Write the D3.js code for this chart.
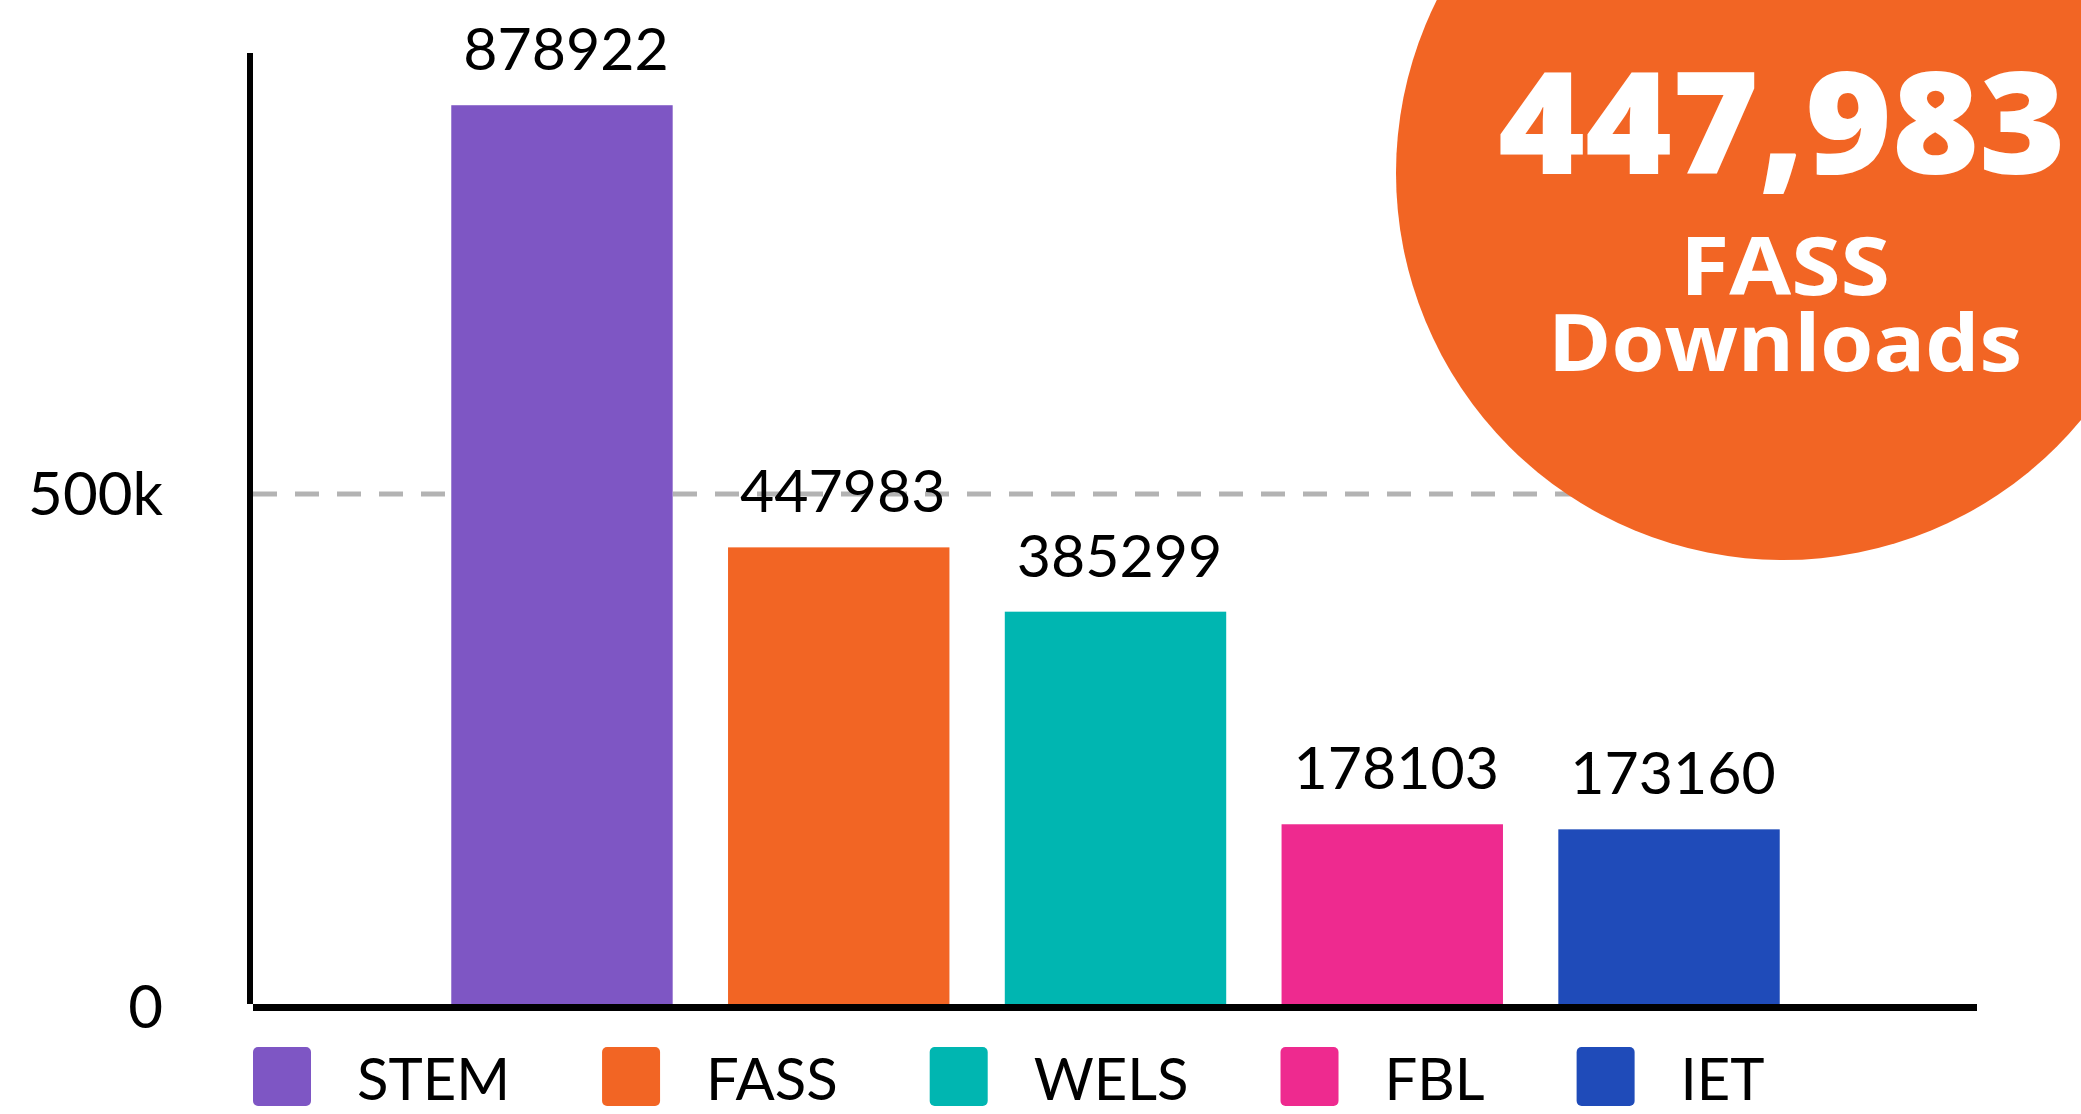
<!DOCTYPE html>
<html>
<head>
<meta charset="utf-8">
<script src="https://cdn.jsdelivr.net/npm/d3@7"></script>
<style>
  html, body { margin: 0; padding: 0; background: #ffffff; }
  svg { display: block; }
</style>
</head>
<body>
<svg id="chart" width="2081" height="1114"></svg>
<script>
// ---- data ----
const categories = ["STEM", "FASS", "WELS", "FBL", "IET"];
const downloads = [878922, 447983, 385299, 178103, 173160];
const colors = ["#7E56C4", "#F26524", "#00B6B1", "#EE2A8F", "#1F4BB9"];
const yTickValues = [0, 500000];
const yTickLabels = ["0", "500k"];
const calloutNumber = "447,983";
const calloutLines = ["FASS", "Downloads"];

// ---- layout ----
const axisX = 250, axisTop = 53, baseY = 1007;
const plotRight = 1977;

const svg = d3.select("#chart");

const x = d3.scaleBand()
  .domain(categories)
  .range([axisX + 2, plotRight + 2])
  .paddingInner(0.2)
  .paddingOuter(0.72);

const y = d3.scaleLinear()
  .domain([0, 500000])
  .range([baseY, 494]);

// dashed gridline at 500k
svg.append("line")
  .attr("x1", axisX + 3).attr("x2", plotRight)
  .attr("y1", y(500000)).attr("y2", y(500000))
  .attr("stroke", "#b3b3b3")
  .attr("stroke-width", 5)
  .attr("stroke-dasharray", "24 18");

// bars
const data = categories.map((c, i) => ({ cat: c, value: downloads[i], color: colors[i] }));

svg.append("g").selectAll("rect")
  .data(data).join("rect")
  .attr("x", d => x(d.cat))
  .attr("y", d => y(d.value))
  .attr("width", x.bandwidth())
  .attr("height", d => baseY - y(d.value))
  .attr("fill", d => d.color);

// value labels
svg.append("g").selectAll("text")
  .data(data).join("text")
  .attr("x", d => x(d.cat) + x.bandwidth() / 2 + 4)
  .attr("y", d => y(d.value) - 35)
  .attr("text-anchor", "middle")
  .attr("font-family", "Lato, sans-serif")
  .attr("font-size", 59)
  .attr("fill", "#000")
  .text(d => String(d.value));

// y tick labels
svg.append("g").selectAll("text")
  .data(yTickValues).join("text")
  .attr("x", 163)
  .attr("y", d => y(d) + 21)
  .attr("text-anchor", "end")
  .attr("font-family", "Lato, sans-serif")
  .attr("font-size", 60)
  .attr("fill", "#000")
  .text((d, i) => yTickLabels[i]);

// axes
svg.append("line")
  .attr("x1", axisX).attr("x2", axisX)
  .attr("y1", axisTop).attr("y2", baseY - 3)
  .attr("stroke", "#000").attr("stroke-width", 6);
svg.append("line")
  .attr("x1", axisX + 3).attr("x2", plotRight)
  .attr("y1", baseY + 0.5).attr("y2", baseY + 0.5)
  .attr("stroke", "#000").attr("stroke-width", 7);

// callout circle
const cx = 1783, cy = 173, r = 387;
svg.append("circle")
  .attr("cx", cx).attr("cy", cy).attr("r", r)
  .attr("fill", "#F26524");

svg.append("text")
  .attr("x", cx - 1).attr("y", 174)
  .attr("text-anchor", "middle")
  .attr("font-family", "'Open Sans', sans-serif")
  .attr("font-weight", 800)
  .attr("font-size", 142)
  .attr("fill", "#fff")
  .attr("textLength", 568)
  .attr("lengthAdjust", "spacingAndGlyphs")
  .text(calloutNumber);

svg.append("text")
  .attr("x", cx + 2).attr("y", 295)
  .attr("text-anchor", "middle")
  .attr("font-family", "'Open Sans', sans-serif")
  .attr("font-weight", 700)
  .attr("font-size", 80)
  .attr("fill", "#fff")
  .attr("textLength", 210)
  .attr("lengthAdjust", "spacingAndGlyphs")
  .text(calloutLines[0]);

svg.append("text")
  .attr("x", cx + 2).attr("y", 371)
  .attr("text-anchor", "middle")
  .attr("font-family", "'Open Sans', sans-serif")
  .attr("font-weight", 700)
  .attr("font-size", 78)
  .attr("fill", "#fff")
  .attr("textLength", 474)
  .attr("lengthAdjust", "spacingAndGlyphs")
  .text(calloutLines[1]);

// legend
const legend = svg.append("g");
let lx = 253;
const swatch = 58, sy = 1047, textGap = 104, itemGap = 92;
data.forEach(d => {
  legend.append("rect")
    .attr("x", lx).attr("y", sy)
    .attr("width", swatch).attr("height", 59)
    .attr("rx", 5).attr("ry", 5)
    .attr("fill", d.color);
  const t = legend.append("text")
    .attr("x", lx + textGap).attr("y", 1100)
    .attr("font-family", "Lato, sans-serif")
    .attr("font-size", 58)
    .attr("fill", "#000")
    .text(d.cat);
  const w = t.node().getComputedTextLength();
  lx = lx + textGap + w + itemGap;
});
</script>
</body>
</html>
